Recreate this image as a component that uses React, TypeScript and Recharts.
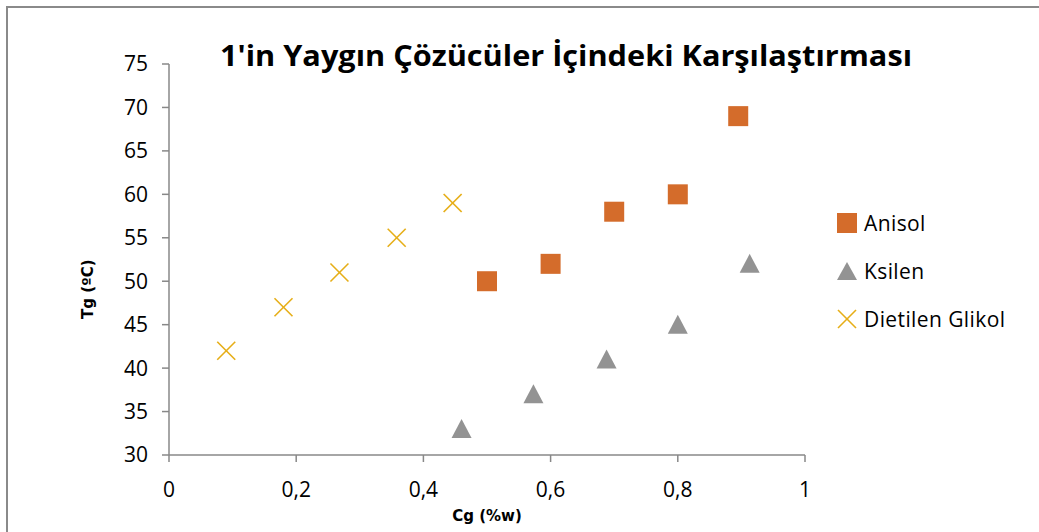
import React from "react"
import { ScatterChart, Scatter, XAxis, YAxis } from "recharts"

const anisolCg = [0.5, 0.6, 0.7, 0.8, 0.895]
const anisolTg = [50, 52, 58, 60, 69]
const ksilenCg = [0.46, 0.573, 0.688, 0.8, 0.913]
const ksilenTg = [33, 37, 41, 45, 52]
const dietilenCg = [0.09, 0.18, 0.268, 0.358, 0.446]
const dietilenTg = [42, 47, 51, 55, 59]

const xTicks = [0, 0.2, 0.4, 0.6, 0.8, 1]
const yTicks = [30, 35, 40, 45, 50, 55, 60, 65, 70, 75]

const toPoints = (xs: number[], ys: number[]) => xs.map((x, i) => ({ x, y: ys[i] }))

const ORANGE = "#D46C2B"
const GRAY = "#939393"
const YELLOW = "#E6AE17"
const AXIS = "#888888"
const FONT = "'Open Sans', sans-serif"
const LABEL_FONT = "'DejaVu Sans', sans-serif"

const SquareShape = (props: any) => {
  const { cx, cy } = props
  return <rect x={cx - 10} y={cy - 10} width={20} height={20} fill={ORANGE} />
}

const TriangleShape = (props: any) => {
  const { cx, cy } = props
  return <polygon points={`${cx},${cy - 10} ${cx + 10},${cy + 9} ${cx - 10},${cy + 9}`} fill={GRAY} />
}

const CrossShape = (props: any) => {
  const { cx, cy } = props
  return (
    <g stroke={YELLOW} strokeWidth={1.6}>
      <line x1={cx - 9} y1={cy - 9} x2={cx + 9} y2={cy + 9} />
      <line x1={cx - 9} y1={cy + 9} x2={cx + 9} y2={cy - 9} />
    </g>
  )
}

const legendItems = [
  { name: "Anisol", kind: "square" },
  { name: "Ksilen", kind: "triangle" },
  { name: "Dietilen Glikol", kind: "cross" },
]

const LegendBox = () => (
  <div style={{ position: "absolute", left: 836, top: 199, fontFamily: FONT, fontSize: 21, letterSpacing: 0.4, color: "#000" }}>
    {legendItems.map((item) => (
      <div key={item.name} style={{ display: "flex", alignItems: "center", height: 48 }}>
        <svg width={22} height={22} style={{ marginRight: 6 }}>
          {item.kind === "square" && <rect x={1} y={1} width={20} height={20} fill={ORANGE} />}
          {item.kind === "triangle" && <polygon points="11,2 21,20 1,20" fill={GRAY} />}
          {item.kind === "cross" && (
            <g stroke={YELLOW} strokeWidth={1.6}>
              <line x1={2} y1={2} x2={20} y2={20} />
              <line x1={2} y1={20} x2={20} y2={2} />
            </g>
          )}
        </svg>
        <span>{item.name}</span>
      </div>
    ))}
  </div>
)

const fmt = (v: number) => String(v).replace(".", ",")

export default function App() {
  return (
    <div style={{ position: "absolute", left: 0, top: 0, width: 1039, height: 532, background: "#fff", overflow: "hidden" }}>
      <div
        style={{
          position: "absolute",
          left: 6,
          top: 6,
          width: 1100,
          height: 600,
          borderTop: "2px solid #8a8a8a",
          borderLeft: "2px solid #8a8a8a",
        }}
      />
      <div style={{ position: "absolute", left: 0, top: 0 }}>
        <ScatterChart width={1039} height={532} margin={{ top: 64, right: 234, bottom: 0, left: 119 }}>
          <text x={566} y={66} textAnchor="middle" fontFamily={FONT} fontWeight={700} fontSize={28} textLength={692} lengthAdjust="spacingAndGlyphs">
            1'in Yaygın Çözücüler İçindeki Karşılaştırması
          </text>
          <XAxis
            type="number"
            dataKey="x"
            domain={[0, 1]}
            ticks={xTicks}
            tickFormatter={fmt}
            stroke={AXIS}
            strokeWidth={1.5}
            tickSize={7}
            tick={{ fill: "#000", fontSize: 21, fontFamily: FONT, dy: 18 }}
            height={77}
            label={{ value: "Cg (%w)", position: "insideBottom", offset: 11, fill: "#000", fontSize: 15, fontWeight: 700, fontFamily: LABEL_FONT }}
          />
          <YAxis
            type="number"
            dataKey="y"
            domain={[30, 75]}
            ticks={yTicks}
            stroke={AXIS}
            strokeWidth={1.5}
            tickSize={7}
            width={50}
            tick={{ fill: "#000", fontSize: 21, fontFamily: FONT, dx: -12 }}
            label={{ value: "Tg (ºC)", angle: -90, position: "left", offset: 31, fill: "#000", fontSize: 15, fontWeight: 700, fontFamily: LABEL_FONT }}
          />
          <Scatter name="Anisol" data={toPoints(anisolCg, anisolTg)} shape={SquareShape} isAnimationActive={false} />
          <Scatter name="Ksilen" data={toPoints(ksilenCg, ksilenTg)} shape={TriangleShape} isAnimationActive={false} />
          <Scatter name="Dietilen Glikol" data={toPoints(dietilenCg, dietilenTg)} shape={CrossShape} isAnimationActive={false} />
        </ScatterChart>
      </div>
      <LegendBox />
    </div>
  )
}
